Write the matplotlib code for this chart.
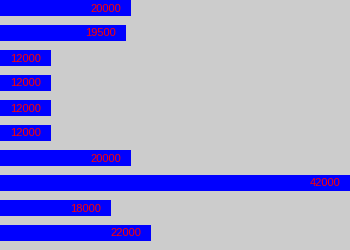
import matplotlib
matplotlib.use("Agg")
import matplotlib.pyplot as plt

# values for each bar, top to bottom
values = [20000, 19500, 12000, 12000, 12000, 12000, 20000, 42000, 18000, 22000]
labels = [str(v) for v in values]

fig = plt.figure(figsize=(3.5, 2.5), dpi=100)
fig.patch.set_facecolor("#cccccc")
ax = fig.add_axes([0, 0, 1, 1])
ax.set_facecolor("#cccccc")

pos = list(range(len(values)))
ax.barh(pos, values, height=0.64, color="#0000ff")
for p, v, lab in zip(pos, values, labels):
    ax.text(min(v, 41900) - 1000, p + 0.02, lab, ha="right", va="center",
            color="#ff0000", fontsize=8, family="Liberation Sans")

ax.set_xlim(6900, 41900)
ax.set_ylim(9.68, -0.32)
ax.axis("off")

fig.savefig("out.png", dpi=100, facecolor=fig.get_facecolor())
